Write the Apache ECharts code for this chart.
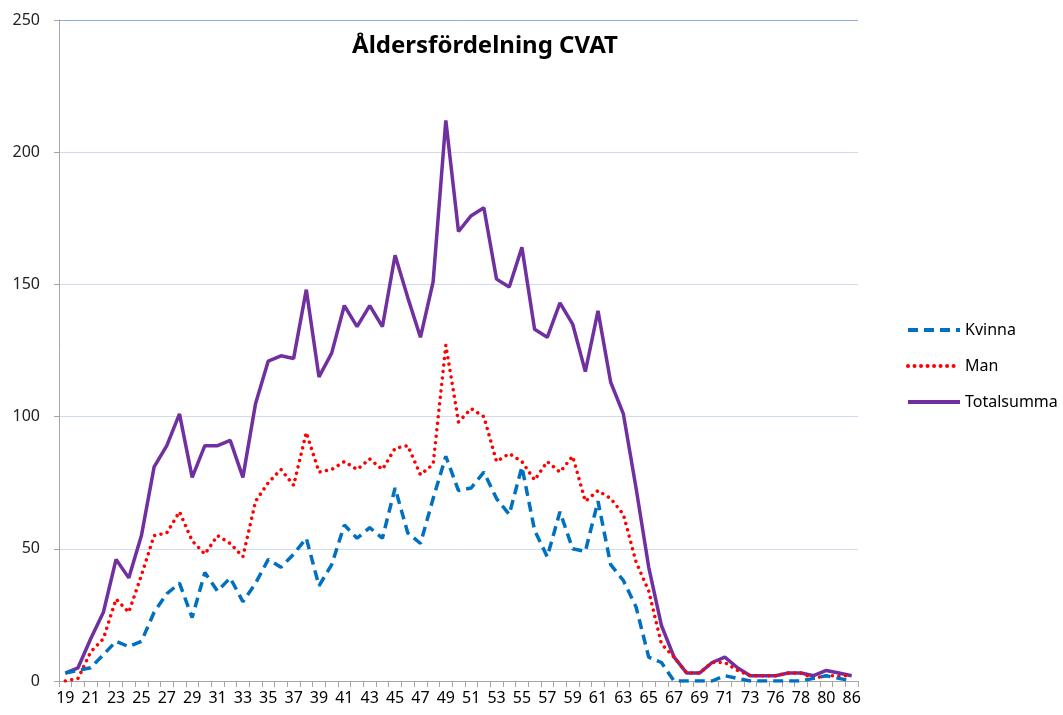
<!DOCTYPE html>
<html>
<head>
<meta charset="utf-8">
<title>Åldersfördelning CVAT</title>
<script src="https://cdn.jsdelivr.net/npm/echarts@6/dist/echarts.min.js"></script>
<style>
  html, body { margin: 0; padding: 0; background: #fff; }
  #chart { width: 1063px; height: 715px; }
</style>
</head>
<body>
<div id="chart"></div>
<script>
// åldrar (kategorier) - ojämna steg i slutet, som i originalet
var ages = ['19', '20', '21', '22', '23', '24', '25', '26', '27', '28',
  '29', '30', '31', '32', '33', '34', '35', '36', '37', '38',
  '39', '40', '41', '42', '43', '44', '45', '46', '47', '48',
  '49', '50', '51', '52', '53', '54', '55', '56', '57', '58',
  '59', '60', '61', '62', '63', '64', '65', '66', '67', '68',
  '69', '70', '71', '72', '73', '75', '76', '77', '78', '79',
  '80', '82', '86']

var kvinna = [3, 4, 5, 10, 15, 13, 15, 26, 33, 37,
  24, 41, 34, 39, 30, 37, 46, 43, 48, 54,
  36, 44, 59, 54, 58, 54, 73, 56, 52, 69,
  85, 72, 73, 79, 69, 63, 81, 57, 47, 64,
  50, 49, 68, 44, 38, 28, 9, 7, 0, 0,
  0, 0, 2, 1, 0, 0, 0, 0, 0, 1,
  2, 1, 0]

var man = [0, 1, 11, 16, 31, 26, 40, 55, 56, 64,
  53, 48, 55, 52, 47, 68, 75, 80, 74, 94,
  79, 80, 83, 80, 84, 80, 88, 89, 78, 82,
  127, 98, 103, 100, 83, 86, 83, 76, 83, 79,
  85, 68, 72, 69, 63, 45, 34, 14, 9, 3,
  3, 7, 7, 4, 2, 2, 2, 3, 3, 1,
  2, 2, 2]

var totalsumma = [3, 5, 16, 26, 46, 39, 55, 81, 89, 101,
  77, 89, 89, 91, 77, 105, 121, 123, 122, 148,
  115, 124, 142, 134, 142, 134, 161, 145, 130, 151,
  212, 170, 176, 179, 152, 149, 164, 133, 130, 143,
  135, 117, 140, 113, 101, 73, 43, 21, 9, 3,
  3, 7, 9, 5, 2, 2, 2, 3, 3, 2,
  4, 3, 2]

var myChart = echarts.init(document.getElementById('chart'))

var option = {
  animation: false,
  textStyle: {
    fontFamily: 'Noto Sans'
  },
  title: {
    text: 'Åldersfördelning CVAT',
    left: 480,
    top: 29,
    textAlign: 'center',
    textStyle: {
      fontSize: 24,
      fontWeight: 'bold',
      color: '#000',
      fontFamily: 'Noto Sans'
    }
  },
  legend: {
    orient: 'vertical',
    left: 901,
    top: 317,
    itemGap: 20,
    itemWidth: 52,
    itemHeight: 16,
    itemStyle: { opacity: 0 },
    lineStyle: { width: 4 },
    data: ['Kvinna', 'Man', 'Totalsumma'],
    textStyle: {
      fontSize: 16,
      color: '#000'
    }
  },
  grid: {
    left: 59,
    right: 205,
    top: 20,
    bottom: 34,
    containLabel: false
  },
  xAxis: {
    type: 'category',
    boundaryGap: true,
    data: ages,
    axisLine: {
      lineStyle: { color: '#A6A6A6', width: 1 }
    },
    axisTick: {
      show: true,
      interval: 0,
      length: 6,
      lineStyle: { color: '#A6A6A6' }
    },
    axisLabel: {
      interval: 1,
      fontSize: 16,
      color: '#000',
      margin: 9
    }
  },
  yAxis: {
    type: 'value',
    min: 0,
    max: 250,
    interval: 50,
    axisLine: {
      show: true,
      lineStyle: { color: '#A6A6A6', width: 1 }
    },
    axisTick: {
      show: true,
      length: 5,
      lineStyle: { color: '#A6A6A6' }
    },
    axisLabel: {
      fontSize: 16,
      color: '#222',
      margin: 19
    },
    splitLine: {
      lineStyle: {
        color: ['#D9E1F2', '#D0DBF0', '#D0DBF0', '#D0DBF0', '#D0DBF0', '#8FAADC'],
        width: 1
      }
    }
  },
  series: [
    {
      name: 'Kvinna',
      type: 'line',
      data: kvinna,
      symbol: 'none',
      color: '#0070C0',
      lineStyle: { width: 3.5, type: [10, 6], color: '#0070C0' },
      z: 3
    },
    {
      name: 'Man',
      type: 'line',
      data: man,
      symbol: 'none',
      color: '#FF0000',
      lineStyle: { width: 3.5, type: [0.01, 6.5], cap: 'round', color: '#FF0000' },
      z: 2
    },
    {
      name: 'Totalsumma',
      type: 'line',
      data: totalsumma,
      symbol: 'none',
      color: '#7030A0',
      lineStyle: { width: 3.5, color: '#7030A0' },
      z: 1
    }
  ]
}

myChart.setOption(option)
</script>
</body>
</html>
